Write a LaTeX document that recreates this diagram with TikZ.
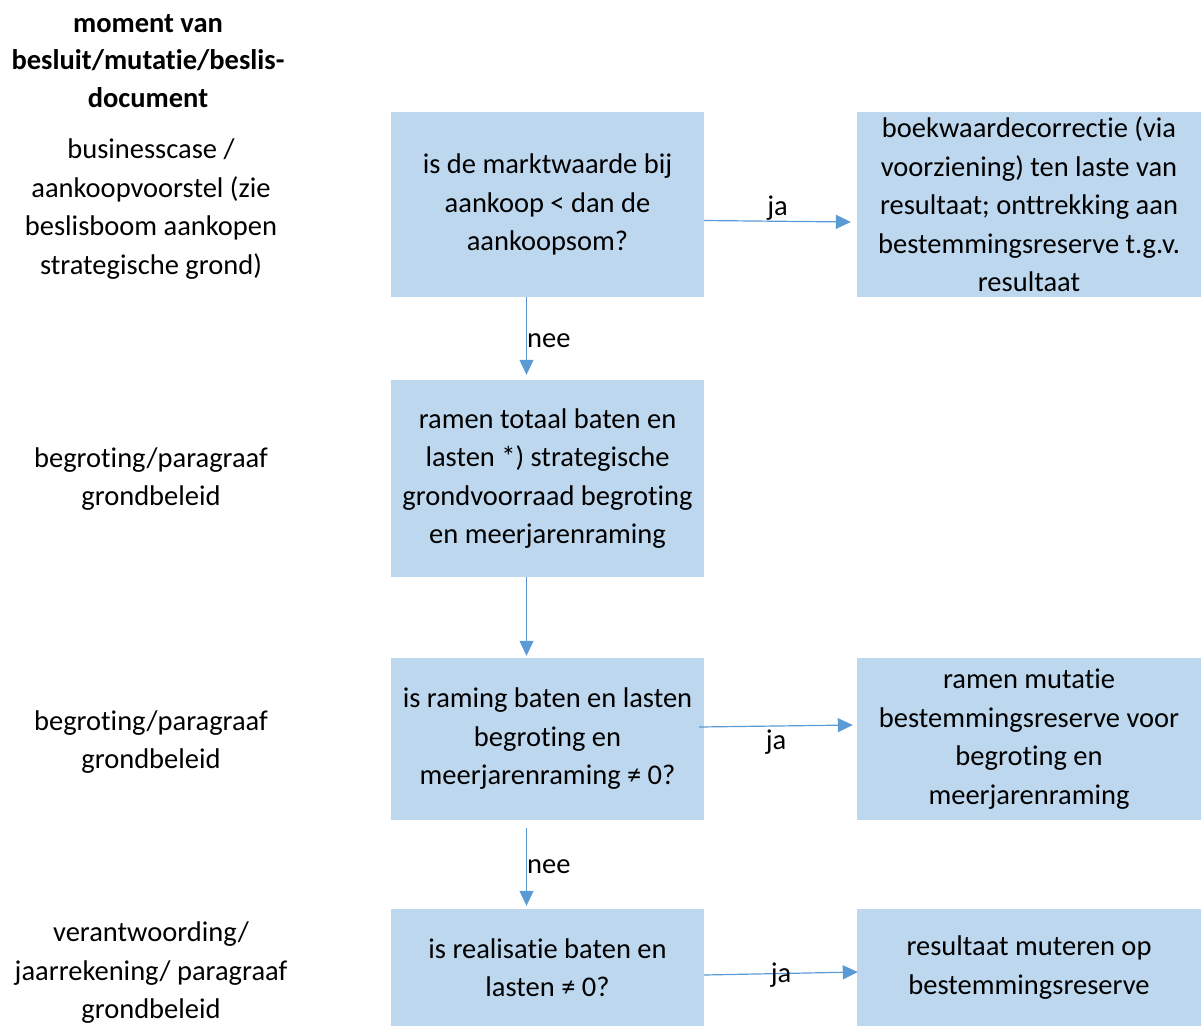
\documentclass[tikz,border=0pt]{standalone}
\usepackage{fontspec}
\setmainfont{Carlito}[Ligatures=NoCommon]
\usetikzlibrary{arrows.meta}
\definecolor{boxblue}{HTML}{BDD7EE}
\definecolor{lineblue}{HTML}{5B9BD5}
\begin{document}
\begin{tikzpicture}[x=1pt, y=-1pt, font=\fontsize{28.5}{38.5}\selectfont,
  box/.style={fill=boxblue, inner sep=0pt, align=center, minimum width=#1},
  box/.default=313pt,
  lbl/.style={align=center, inner sep=0pt},
  flow/.style={-{Triangle[length=15pt,width=14pt]}, draw=lineblue, line width=1.2pt}]
\useasboundingbox (0,0) rectangle (1202,1026);
% left column
\node[lbl, font=\fontsize{28.5}{37.5}\selectfont\bfseries] (hd) at (148,61) {moment van\\besluit/mutatie/beslis-\\document};
\node[lbl] (m1) at (151,209) {businesscase /\\aankoopvoorstel (zie\\beslisboom aankopen\\strategische grond)};
\node[lbl] (m3) at (151,479) {begroting/paragraaf\\grondbeleid};
\node[lbl] (m4) at (151,742) {begroting/paragraaf\\grondbeleid};
\node[lbl] (m6) at (151,973) {verantwoording/\\jaarrekening/ paragraaf\\grondbeleid};
% boxes
\node[box, minimum height=185pt] (q1) at (547.5,204.5) {is de marktwaarde bij\\aankoop < dan de\\aankoopsom?};
\node[box=344pt, minimum height=185pt] (r1) at (1029,204.5) {boekwaardecorrectie (via\\voorziening) ten laste van\\resultaat; onttrekking aan\\bestemmingsreserve t.g.v.\\resultaat};
\node[box, minimum height=197pt] (q3) at (547.5,478.5) {ramen totaal baten en\\lasten *) strategische\\grondvoorraad begroting\\en meerjarenraming};
\node[box, minimum height=162pt] (q4) at (547.5,739) {is raming baten en lasten\\begroting en\\meerjarenraming ≠ 0?};
\node[box=344pt, minimum height=162pt] (r4) at (1029,739) {ramen mutatie\\bestemmingsreserve voor\\begroting en\\meerjarenraming};
\node[box, minimum height=117pt] (q6) at (547.5,967.5) {is realisatie baten en\\lasten ≠ 0?};
\node[box=344pt, minimum height=117pt] (r6) at (1029,967.5) {resultaat muteren op\\bestemmingsreserve};
% connectors
\draw[flow] ([yshift=-16pt]q1.east) -- ([xshift=-6pt,yshift=-17.5pt]r1.west) node[midway, yshift=13pt] {ja};
\draw[flow] ([xshift=-21pt]q1.south) -- ([xshift=-21pt,yshift=5pt]q3.north) node[midway, anchor=west, inner sep=0pt, yshift=-5pt] {nee};
\draw[flow] ([xshift=-21pt]q3.south) -- ([xshift=-21pt,yshift=2pt]q4.north);
\draw[flow] ([xshift=-5pt,yshift=12pt]q4.east) -- ([xshift=-4pt,yshift=14pt]r4.west) node[midway, yshift=-16pt] {ja};
\draw[flow] ([xshift=-21pt,yshift=-8pt]q4.south) -- ([xshift=-21pt,yshift=3pt]q6.north) node[midway, anchor=west, inner sep=0pt] {nee};
\draw[flow] ([yshift=-7.5pt]q6.east) -- ([xshift=1pt,yshift=-4.5pt]r6.west) node[midway, yshift=-1.5pt] {ja};
\end{tikzpicture}
\end{document}
